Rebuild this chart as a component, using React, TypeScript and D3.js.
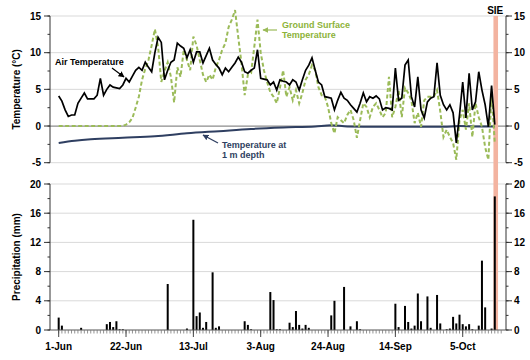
import React from "react";
import * as d3 from "d3";

// Daily series starting 1-Jun (day 0)
const airTemp = [
  4.1, 3.4, 2.2, 1.3, 1.5, 1.5, 3.1, 3.8, 4.5, 3.7,
  3.7, 3.7, 4.2, 6.5, 4.2, 5.0, 5.6, 5.3, 5.2, 5.1,
  5.6, 6.5, 6.0, 6.8, 7.6, 8.0, 7.6, 8.7, 8.0, 7.4,
  10.0, 12.1, 11.4, 6.3, 7.6, 8.7, 9.0, 11.3, 10.9, 10.6,
  9.3, 10.4, 8.7, 10.1, 10.1, 8.6, 9.6, 10.6, 9.0, 8.4,
  7.9, 7.0, 7.9, 7.4, 8.0, 8.6, 9.4, 8.7, 7.4, 7.2,
  7.6, 7.9, 10.4, 6.5, 6.4, 6.3, 5.6, 6.0, 4.9, 6.3,
  6.1, 6.0, 5.6, 6.3, 6.0, 4.9, 6.3, 7.6, 8.3, 9.3,
  7.6, 6.0, 5.6, 4.0, 3.9, 3.8, 2.2, 3.5, 4.6, 3.8,
  3.5, 2.9, 2.4, 1.9, 3.1, 4.5, 3.3, 4.0, 3.8, 4.1,
  3.7, 2.2, 2.5, 2.4, 2.2, 7.9, 3.5, 3.8, 8.3, 9.0,
  4.0, 2.6, 6.7, 2.2, 1.1, 3.3, 3.8, 4.0, 8.6, 4.2,
  2.9, 2.2, 2.9, 1.8, -2.3, 1.5, 6.0, 1.1, 7.2, 2.2,
  3.3, 7.4, 4.9, 2.9, -0.1, 5.5, 0.2,
];

const groundTemp = [
  0, 0, 0, 0, 0, 0, 0, 0, 0, 0,
  0, 0, 0, 0, 0, 0, 0, 0, 0, 0,
  0, 0.2, 0.5, 1.1, 2.5, 4.0, 6.3, 7.8, 9.0, 11.0,
  13.2, 10.8, 6.0, 7.5, 8.7, 6.7, 3.2, 8.0, 6.7, 10.4,
  9.0, 7.6, 12.2, 11.0, 9.0, 7.0, 6.0, 7.0, 6.3, 8.0,
  9.0, 10.4, 11.3, 13.5, 14.5, 15.8, 12.1, 8.6, 4.2, 7.0,
  7.2, 10.8, 14.5, 10.0, 7.6, 6.0, 4.6, 4.0, 3.1, 5.2,
  7.6, 4.0, 5.3, 3.5, 4.9, 3.1, 4.5, 6.3, 7.0, 8.3,
  7.6, 5.3, 4.2, 4.0, 2.6, 0.4, -1.0, 1.2, 0.8, 0.4,
  1.5, 2.2, 0.8, -1.6, 0.8, 3.1, 2.6, 1.2, 2.6, 3.1,
  2.2, 1.2, 1.8, 6.7, 1.2, 2.6, 4.9, 1.2, 5.2, 4.5,
  3.5, 0.4, 1.8, -0.1, 3.5, 4.0, 4.0, 4.0, 4.9, 2.0,
  -1.5, -0.5, -1.5, -2.3, -4.6, 0.8, 2.2, -0.5, 3.1, -1.5,
  3.1, 1.2, -0.1, -2.9, -4.6, 4.5, -2.3,
];

const depthDays = [0, 5, 10, 20, 30, 40, 50, 60, 70, 80, 85, 90, 100, 110, 120, 125, 130, 136];
const depthTemp = [-2.3, -2.0, -1.8, -1.6, -1.4, -1.0, -0.7, -0.4, -0.2, -0.05, 0.1, -0.05, -0.1, -0.1, -0.1, 0.0, -0.05, -0.05];

const precip = [
  1.7, 0.6, 0, 0, 0, 0, 0, 0.3, 0, 0,
  0, 0, 0, 0, 0, 0.8, 1.1, 0.4, 1.2, 0.1,
  0.1, 0, 0, 0, 0, 0, 0, 0, 0, 0,
  0, 0, 0, 0, 6.3, 0, 0, 0, 0, 0,
  0.2, 0, 15.1, 1.9, 2.4, 0.3, 1.1, 0, 7.9, 0.3,
  0.5, 0, 0, 0, 0, 0, 0, 0, 1.2, 0.7,
  0.1, 0, 0, 0, 0, 0, 5.2, 4.1, 0.1, 0.1,
  0, 0, 1.0, 0.4, 2.6, 0.7, 0.2, 0.7, 0.3, 0,
  0, 0, 0, 0, 0, 2.0, 4.0, 0, 0, 5.9,
  0, 0.5, 0, 1.2, 0.1, 0, 0, 0, 0, 0,
  0, 0, 0, 0, 0, 3.6, 0.4, 0, 3.3, 1.1,
  0.2, 0.6, 5.0, 1.2, 0, 4.6, 0.3, 0, 4.8, 0.9,
  0, 0.1, 0.2, 1.8, 0.9, 2.1, 0.8, 0.5, 0.8, 0.1,
  0, 0.6, 9.5, 3.1, 0, 0.2, 18.3,
];

const dateTickDays = [0, 21, 42, 63, 84, 105, 126];
const dateTickLabels = ["1-Jun", "22-Jun", "13-Jul", "3-Aug", "24-Aug", "14-Sep", "5-Oct"];
const tempTicks = [15, 10, 5, 0, -5];
const precipTicks = [20, 16, 12, 8, 4, 0];
const sieDay = 136.3;

const FONT = "'Liberation Sans', Arial, sans-serif";

export default function App() {
  const L = 50, R = 506;
  const x = d3.scaleLinear().domain([-2.71, 139.5]).range([L, R]);
  const yT = d3.scaleLinear().domain([-5, 15]).range([162.7, 16]);
  const yP = d3.scaleLinear().domain([0, 20]).range([330, 184]);

  const lineT = d3.line<number>().x((_, i) => x(i)).y((d) => yT(d));
  const lineDepth = d3
    .line<number>()
    .x((_, i) => x(depthDays[i]))
    .y((d) => yT(d))
    .curve(d3.curveMonotoneX);

  const minorT = d3.range(-5, 15.01, 2.5);
  const minorP = d3.range(0, 20.01, 2);
  const dayTicks = d3.range(0, 139);

  const green = "#9bbb59";
  const navy = "#2f3f61";
  const grid = "#d9d9d9";

  return (
    <svg
      width={530}
      height={360}
      style={{ position: "absolute", left: 0, top: 0, background: "#fff" }}
      fontFamily={FONT}
    >
      <defs>
        <marker id="arrBlack" viewBox="0 0 10 10" refX="9" refY="5" markerWidth="5" markerHeight="5" orient="auto">
          <path d="M0,0 L10,5 L0,10 z" fill="#000" />
        </marker>
        <marker id="arrGreen" viewBox="0 0 10 10" refX="9" refY="5" markerWidth="5" markerHeight="5" orient="auto">
          <path d="M0,0 L10,5 L0,10 z" fill={green} />
        </marker>
        <marker id="arrNavy" viewBox="0 0 10 10" refX="9" refY="5" markerWidth="5" markerHeight="5" orient="auto">
          <path d="M0,0 L10,5 L0,10 z" fill={navy} />
        </marker>
      </defs>

      {/* grid lines top */}
      {tempTicks.filter((t) => t !== 0).map((t) => (
        <line key={"gt" + t} x1={L} x2={R} y1={yT(t)} y2={yT(t)} stroke={grid} strokeWidth={1} />
      ))}
      <line x1={L} x2={R} y1={yT(0)} y2={yT(0)} stroke="#8c8c8c" strokeWidth={1.2} />

      {/* grid lines bottom */}
      {precipTicks.filter((t) => t !== 0).map((t) => (
        <line key={"gp" + t} x1={L} x2={R} y1={yP(t)} y2={yP(t)} stroke={grid} strokeWidth={1} />
      ))}

      {/* SIE band */}
      <rect x={x(sieDay) - 2.3} y={16} width={4.6} height={330 - 16} fill="#f3b3a0" />
      <text x={x(sieDay) - 0.5} y={14} textAnchor="middle" fontSize={10} fontWeight="bold">SIE</text>

      {/* lines */}
      <path d={lineDepth(depthTemp) || ""} fill="none" stroke={navy} strokeWidth={2} />
      <path d={lineT(groundTemp) || ""} fill="none" stroke={green} strokeWidth={2} strokeDasharray="4 2.5" />
      <path d={lineT(airTemp) || ""} fill="none" stroke="#000" strokeWidth={1.7} strokeLinejoin="miter" />

      {/* precipitation bars */}
      {precip.map((p, i) =>
        p > 0 ? (
          <rect key={"b" + i} x={x(i) - 1} y={yP(p)} width={2} height={yP(0) - yP(p)} fill="#000" />
        ) : null
      )}

      {/* bottom axis */}
      <line x1={L} x2={R} y1={yP(0)} y2={yP(0)} stroke="#555" strokeWidth={1} />
      {dayTicks.map((d) => (
        <line key={"dt" + d} x1={x(d)} x2={x(d)} y1={yP(0)} y2={yP(0) + 3.5} stroke="#777" strokeWidth={0.8} />
      ))}
      {dateTickDays.map((d, i) => (
        <g key={"mt" + d}>
          <line x1={x(d)} x2={x(d)} y1={yP(0)} y2={yP(0) + 7} stroke="#444" strokeWidth={1} />
          <text x={x(d)} y={350} textAnchor="middle" fontSize={10} fontWeight="bold">{dateTickLabels[i]}</text>
        </g>
      ))}

      {/* left & right axes top */}
      <line x1={L} x2={L} y1={yT(15)} y2={yT(-5)} stroke="#333" strokeWidth={1} />
      <line x1={R} x2={R} y1={yT(15)} y2={yT(-5)} stroke="#333" strokeWidth={1} />
      {minorT.map((t) => (
        <g key={"mT" + t}>
          <line x1={L - 2.5} x2={L} y1={yT(t)} y2={yT(t)} stroke="#333" />
          <line x1={R} x2={R + 2.5} y1={yT(t)} y2={yT(t)} stroke="#333" />
        </g>
      ))}
      {tempTicks.map((t) => (
        <g key={"tT" + t}>
          <line x1={L - 6} x2={L} y1={yT(t)} y2={yT(t)} stroke="#333" />
          <line x1={R} x2={R + 6} y1={yT(t)} y2={yT(t)} stroke="#333" />
          <text x={L - 9} y={yT(t) + 3.5} textAnchor="end" fontSize={10} fontWeight="bold">{t}</text>
          <text x={R + 8} y={yT(t) + 3.5} textAnchor="start" fontSize={10} fontWeight="bold">{t}</text>
        </g>
      ))}

      {/* left & right axes bottom */}
      <line x1={L} x2={L} y1={yP(20)} y2={yP(0)} stroke="#333" strokeWidth={1} />
      <line x1={R} x2={R} y1={yP(20)} y2={yP(0)} stroke="#333" strokeWidth={1} />
      {minorP.map((t) => (
        <g key={"mP" + t}>
          <line x1={L - 2.5} x2={L} y1={yP(t)} y2={yP(t)} stroke="#333" />
          <line x1={R} x2={R + 2.5} y1={yP(t)} y2={yP(t)} stroke="#333" />
        </g>
      ))}
      {precipTicks.map((t) => (
        <g key={"tP" + t}>
          <line x1={L - 6} x2={L} y1={yP(t)} y2={yP(t)} stroke="#333" />
          <line x1={R} x2={R + 6} y1={yP(t)} y2={yP(t)} stroke="#333" />
          <text x={L - 9} y={yP(t) + 3.5} textAnchor="end" fontSize={10} fontWeight="bold">{t}</text>
          <text x={R + 8} y={yP(t) + 3.5} textAnchor="start" fontSize={10} fontWeight="bold">{t}</text>
        </g>
      ))}

      {/* axis titles */}
      <text transform={`translate(20,${(yT(15) + yT(-5)) / 2}) rotate(-90)`} textAnchor="middle" fontSize={10} fontWeight="bold">
        Temperature (°C)
      </text>
      <text transform={`translate(20,${(yP(20) + yP(0)) / 2}) rotate(-90)`} textAnchor="middle" fontSize={10} fontWeight="bold">
        Precipitation (mm)
      </text>

      {/* annotations */}
      <text x={55} y={65} fontSize={9} fontWeight="bold">Air Temperature</text>
      <line x1={112} x2={124} y1={68} y2={77} stroke="#000" strokeWidth={1.2} markerEnd="url(#arrBlack)" />

      <text x={282} y={28} fontSize={9} fontWeight="bold" fill="#8db33a">Ground Surface</text>
      <text x={282} y={38} fontSize={9} fontWeight="bold" fill="#8db33a">Temperature</text>
      <line x1={277} x2={263} y1={30} y2={30} stroke={green} strokeWidth={1.2} markerEnd="url(#arrGreen)" />

      <text x={222} y={148} fontSize={9} fontWeight="bold" fill={navy}>Temperature at</text>
      <text x={222} y={158} fontSize={9} fontWeight="bold" fill={navy}>1 m depth</text>
      <line x1={218} x2={203} y1={143} y2={135} stroke={navy} strokeWidth={1.2} markerEnd="url(#arrNavy)" />
    </svg>
  );
}
